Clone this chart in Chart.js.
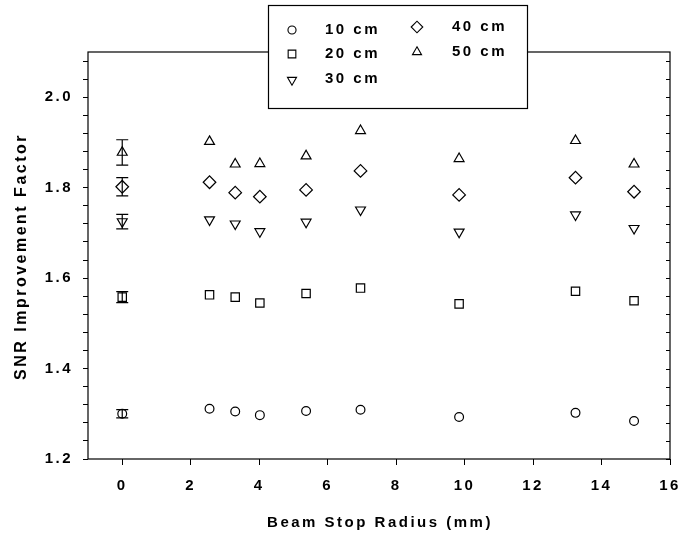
<!DOCTYPE html>
<html><head><meta charset="utf-8">
<script src="https://cdn.jsdelivr.net/npm/chart.js@4/dist/chart.umd.min.js"></script>
<style>html,body{margin:0;padding:0;background:#fff}#wrap{width:679px;height:538px;position:relative}</style>
</head><body><div id="wrap"><canvas id="c" width="679" height="538"></canvas></div>
<script>
// ---- data ----
const radius = [0, 2.55, 3.30, 4.02, 5.37, 6.96, 9.84, 13.24, 14.95];
const snr10 = [1.300, 1.311, 1.305, 1.297, 1.306, 1.309, 1.293, 1.302, 1.284];
const snr20 = [1.558, 1.563, 1.558, 1.545, 1.566, 1.578, 1.543, 1.571, 1.550];
const snr30 = [1.725, 1.729, 1.720, 1.703, 1.724, 1.751, 1.702, 1.740, 1.710];
const snr40 = [1.802, 1.812, 1.789, 1.780, 1.795, 1.837, 1.784, 1.822, 1.791];
const snr50 = [1.878, 1.902, 1.852, 1.853, 1.870, 1.926, 1.864, 1.904, 1.852];
const err10 = [0.009, null, null, null, null, null, null, null, null];
const err20 = [0.012, null, null, null, null, null, null, null, null];
const err30 = [0.016, null, null, null, null, null, null, null, null];
const err40 = [0.020, null, null, null, null, null, null, null, null];
const err50 = [0.028, null, null, null, null, null, null, null, null];
const seriesLabels = ['10 cm', '20 cm', '30 cm', '40 cm', '50 cm'];
const xTicks = [0, 2, 4, 6, 8, 10, 12, 14, 16];
const yMajorTicks = [1.2, 1.4, 1.6, 1.8, 2.0];
const yMinorStep = 0.04;
const xMin = -1, xMax = 16, yMin = 1.2, yMax = 2.1;
const xTitle = 'Beam Stop Radius (mm)';
const yTitle = 'SNR Improvement Factor';

const FONT = 'Arial, "Liberation Sans", sans-serif';
const SPACING = '2.5px';

const styles = [
  {pointStyle: 'circle', radius: 4.4, rotation: 0},
  {pointStyle: 'rect', radius: 5.9, rotation: 0},
  {pointStyle: 'triangle', radius: 5.7, rotation: 180},
  {pointStyle: 'rectRot', radius: 6.3, rotation: 0},
  {pointStyle: 'triangle', radius: 5.7, rotation: 0}
];
const values = [snr10, snr20, snr30, snr40, snr50];
const errors = [err10, err20, err30, err40, err50];

const datasets = values.map((vals, i) => ({
  label: seriesLabels[i],
  data: radius.map((x, j) => ({x: x, y: vals[j]})),
  errors: errors[i],
  pointStyle: styles[i].pointStyle,
  pointRadius: styles[i].radius,
  pointHoverRadius: styles[i].radius,
  rotation: styles[i].rotation,
  borderColor: '#000',
  backgroundColor: 'rgba(0,0,0,0)',
  borderWidth: 1.2,
  showLine: false
}));

const spacingPlugin = {
  id: 'spacing',
  beforeInit(chart) { chart.ctx.letterSpacing = SPACING; },
  beforeUpdate(chart) { chart.ctx.letterSpacing = SPACING; },
  beforeLayout(chart) { chart.ctx.letterSpacing = SPACING; },
  beforeDraw(chart) { chart.ctx.letterSpacing = SPACING; }
};

const framePlugin = {
  id: 'frame',
  beforeDatasetsDraw(chart) {
    const {ctx, chartArea: a, scales: {y}} = chart;
    ctx.save();
    ctx.strokeStyle = '#000';
    ctx.lineWidth = 1.2;
    ctx.strokeRect(a.left, a.top, a.right - a.left, a.bottom - a.top);
    ctx.lineWidth = 1;
    y.ticks.forEach(t => {
      const py = Math.round(y.getPixelForValue(t.value)) + 0.5;
      ctx.beginPath();
      ctx.moveTo(a.right, py);
      ctx.lineTo(a.right - 4, py);
      ctx.stroke();
    });
    ctx.restore();
  }
};

const errorPlugin = {
  id: 'errbars',
  afterDatasetsDraw(chart) {
    const {ctx, scales: {x, y}} = chart;
    ctx.save();
    ctx.strokeStyle = '#000';
    ctx.lineWidth = 1.2;
    chart.data.datasets.forEach(ds => {
      ds.data.forEach((p, j) => {
        const e = ds.errors[j];
        if (e == null) return;
        const px = x.getPixelForValue(p.x);
        const top = y.getPixelForValue(p.y + e);
        const bot = y.getPixelForValue(p.y - e);
        ctx.beginPath();
        ctx.moveTo(px, top); ctx.lineTo(px, bot);
        ctx.moveTo(px - 6, top); ctx.lineTo(px + 6, top);
        ctx.moveTo(px - 6, bot); ctx.lineTo(px + 6, bot);
        ctx.stroke();
      });
    });
    ctx.restore();
  }
};

function drawMarker(ctx, style, r, cx, cy) {
  const opts = {pointStyle: style.pointStyle, radius: r, rotation: style.rotation, borderWidth: 1.1};
  if (Chart.helpers && Chart.helpers.drawPoint) {
    ctx.beginPath();
    Chart.helpers.drawPoint(ctx, opts, cx, cy);
  }
}

const annotPlugin = {
  id: 'annot',
  afterDraw(chart) {
    const {ctx, chartArea: a} = chart;
    ctx.save();
    ctx.letterSpacing = SPACING;
    ctx.fillStyle = '#000';
    ctx.font = 'bold 15px ' + FONT;
    ctx.textAlign = 'center';
    ctx.textBaseline = 'middle';
    ctx.fillText(xTitle, (a.left + a.right) / 2 + 1, 523);
    ctx.save();
    ctx.translate(22, (a.top + a.bottom) / 2 + 1);
    ctx.rotate(-Math.PI / 2);
    ctx.font = 'bold 16px ' + FONT;
    ctx.fillText(yTitle, 0, 0);
    ctx.restore();
    const bx = 268.5, by = 5.5, bw = 259, bh = 103;
    ctx.fillStyle = '#fff';
    ctx.fillRect(bx, by, bw, bh);
    ctx.strokeStyle = '#000';
    ctx.lineWidth = 1.2;
    ctx.strokeRect(bx, by, bw, bh);
    const pos = [
      {mx: 292, tx: 325, y: 30},
      {mx: 292, tx: 325, y: 54},
      {mx: 292, tx: 325, y: 79},
      {mx: 417, tx: 452, y: 27},
      {mx: 417, tx: 452, y: 52}
    ];
    ctx.font = 'bold 15px ' + FONT;
    ctx.textAlign = 'left';
    ctx.textBaseline = 'middle';
    seriesLabels.forEach((lab, i) => {
      const p = pos[i];
      ctx.strokeStyle = '#000';
      ctx.fillStyle = 'rgba(0,0,0,0)';
      ctx.lineWidth = 1.1;
      drawMarker(ctx, styles[i], styles[i].radius * 0.92, p.mx, p.y + (i === 2 ? 1 : 0));
      ctx.fillStyle = '#000';
      ctx.fillText(lab, p.tx, p.y);
    });
    ctx.restore();
  }
};

const isMajor = v => yMajorTicks.some(m => Math.abs(m - v) < 1e-6);

new Chart(document.getElementById('c'), {
  type: 'scatter',
  data: {datasets},
  plugins: [spacingPlugin, framePlugin, errorPlugin, annotPlugin],
  options: {
    responsive: false,
    devicePixelRatio: 1,
    animation: false,
    layout: {padding: {top: 52, right: 9, left: 0, bottom: 0}},
    plugins: {legend: {display: false}, tooltip: {enabled: false}, title: {display: false}},
    scales: {
      x: {
        type: 'linear', min: xMin, max: xMax,
        afterBuildTicks: s => { s.ticks = xTicks.map(v => ({value: v})); },
        afterFit: s => { s.height = 79; s.paddingRight = 0; s.paddingLeft = 0; },
        grid: {display: true, drawOnChartArea: false, drawTicks: true, tickLength: 6, color: '#000', tickWidth: 1},
        border: {display: false},
        ticks: {color: '#000', padding: 12, font: {family: FONT, size: 15, weight: 'bold'}, maxRotation: 0, autoSkip: false,
          callback: v => String(v)}
      },
      y: {
        type: 'linear', min: yMin, max: yMax,
        afterBuildTicks: s => {
          const t = [];
          for (let k = 0; yMin + k * yMinorStep <= yMax + 1e-9; k++) t.push({value: Math.round((yMin + k * yMinorStep) * 100) / 100});
          s.ticks = t;
        },
        afterFit: s => { s.width = 88; s.paddingTop = 0; s.paddingBottom = 0; },
        grid: {display: true, drawOnChartArea: false, drawTicks: true, tickLength: 5, color: '#000', tickWidth: 1},
        border: {display: false},
        ticks: {color: '#000', padding: 10, font: {family: FONT, size: 15, weight: 'bold'}, autoSkip: false,
          callback: v => isMajor(v) ? Number(v).toFixed(1) : ''}
      }
    }
  }
});
</script></body></html>
